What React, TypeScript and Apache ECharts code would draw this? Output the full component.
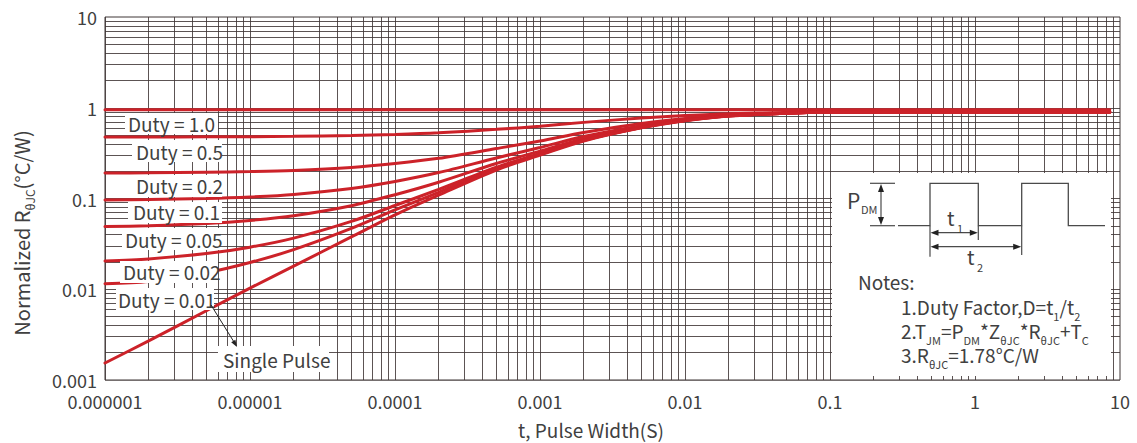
import React, { useEffect, useRef } from 'react';
import * as echarts from 'echarts';

// ---------- data ----------
const pulseWidths = [1e-6, 2e-6, 5e-6, 1e-5, 2e-5, 5e-5, 1e-4, 2e-4, 5e-4, 1e-3, 2e-3, 5e-3, 1e-2, 2e-2, 5e-2, 0.1, 1, 8.5];
const duty050 = [0.476, 0.476, 0.478, 0.48, 0.484, 0.494, 0.508, 0.53, 0.578, 0.625, 0.69, 0.77, 0.82, 0.86, 0.885, 0.895, 0.9, 0.9];
const duty020 = [0.191, 0.192, 0.195, 0.198, 0.204, 0.22, 0.243, 0.277, 0.355, 0.43, 0.534, 0.67, 0.76, 0.83, 0.875, 0.89, 0.9, 0.9];
const duty010 = [0.0964, 0.0974, 0.1, 0.104, 0.111, 0.129, 0.154, 0.193, 0.28, 0.365, 0.482, 0.635, 0.74, 0.82, 0.872, 0.89, 0.9, 0.9];
const duty005 = [0.049, 0.0501, 0.053, 0.0573, 0.0646, 0.0833, 0.11, 0.151, 0.243, 0.333, 0.456, 0.618, 0.73, 0.815, 0.871, 0.89, 0.9, 0.9];
const duty002 = [0.0205, 0.0216, 0.0247, 0.0291, 0.0366, 0.0559, 0.0837, 0.126, 0.221, 0.313, 0.44, 0.607, 0.724, 0.812, 0.87, 0.89, 0.9, 0.9];
const duty001 = [0.0115, 0.0122, 0.0152, 0.0197, 0.0273, 0.0468, 0.0748, 0.117, 0.213, 0.307, 0.435, 0.604, 0.722, 0.811, 0.87, 0.89, 0.9, 0.9];
const singlePulse = [0.00154, 0.0027, 0.0058, 0.0103, 0.018, 0.0377, 0.066, 0.109, 0.206, 0.3, 0.43, 0.6, 0.72, 0.81, 0.87, 0.89, 0.9, 0.9];
const duty100Widths = [1e-6, 8.5];
const duty100 = [0.95, 0.95];

const seriesNames = ['Duty = 1.0', 'Duty = 0.5', 'Duty = 0.2', 'Duty = 0.1', 'Duty = 0.05', 'Duty = 0.02', 'Duty = 0.01', 'Single Pulse'];

const xTickLabels = ['0.000001', '0.00001', '0.0001', '0.001', '0.01', '0.1', '1', '10'];
const yTickLabels = ['0.001', '0.01', '0.1', '1', '10'];
const xDecades = [1e-6, 1e-5, 1e-4, 1e-3, 1e-2, 0.1, 1];
const yDecades = [0.001, 0.01, 0.1, 1];
const gridMultipliers = [1, 2, 3, 4, 5, 6, 7, 8, 9];
const X_MIN = 1e-6, X_MAX = 10, Y_MIN = 0.001, Y_MAX = 10;

const notesLines = [
  '1.Duty Factor,D=t{s|1}/t{s|2}',
  '2.T{s|JM}=P{s|DM}*Z{s|θJC}*R{s|θJC}+T{s|C}',
  '3.R{s|θJC}=1.78°C/W',
];

const FONT = "'Noto Sans CJK SC', 'Noto Sans', sans-serif";
const TEXT = '#404040';
const RED = '#cc2229';
const GRID = '#3f3636';
const INK = '#4a4a4a';

export default function App() {
  const ref = useRef<HTMLDivElement>(null);

  useEffect(() => {
    if (!ref.current) return;
    const chart = echarts.init(ref.current, undefined, { renderer: 'svg' });

    const gridSegs: any[] = [];
    xDecades.forEach((d) => gridMultipliers.forEach((m) => gridSegs.push({ coords: [[d * m, Y_MIN], [d * m, Y_MAX]] })));
    yDecades.forEach((d) => gridMultipliers.forEach((m) => gridSegs.push({ coords: [[X_MIN, d * m], [X_MAX, d * m]] })));

    const curve = (name: string, xs: number[], ys: number[]) => ({
      type: 'line',
      name,
      data: xs.map((x, i) => [x, ys[i]]),
      showSymbol: false,
      symbol: 'none',
      smooth: 0.3,
      silent: true,
      z: 3,
      lineStyle: { color: RED, width: 3, cap: 'round' },
    });

    const labelBoxes = [
      { r: [125, 113, 93, 21], t: [128, 123.5] },
      { r: [132, 140, 90, 22], t: [136, 151] },
      { r: [133, 175, 89, 22], t: [136, 185.5] },
      { r: [128, 202, 94, 21], t: [133, 211.5] },
      { r: [122, 228, 97, 22], t: [125, 239.5] },
      { r: [120, 261, 98, 22], t: [123, 271.5] },
      { r: [116, 288, 98, 22], t: [118, 299.5] },
      { r: [218, 346, 111, 26], t: [223, 359] },
    ];

    const graphics: any[] = [];
    labelBoxes.forEach((b, i) => {
      graphics.push({ type: 'rect', z: 100, shape: { x: b.r[0], y: b.r[1], width: b.r[2], height: b.r[3] }, style: { fill: '#fff' } });
      graphics.push({
        type: 'text', z: 101, x: b.t[0], y: b.t[1],
        style: { text: seriesNames[i], fontSize: 19, fontFamily: FONT, fill: TEXT, align: 'left', verticalAlign: 'middle' },
      });
    });

    // leader arrow to "Single Pulse"
    graphics.push({ type: 'line', z: 101, shape: { x1: 211, y1: 305, x2: 234, y2: 342 }, style: { stroke: '#222', lineWidth: 1 } });
    graphics.push({ type: 'polygon', z: 101, shape: { points: [[237, 347], [231.2, 342.3], [235.4, 339.7]] }, style: { fill: '#222' } });

    // inset
    graphics.push({ type: 'rect', z: 100, shape: { x: 832, y: 173, width: 279, height: 203 }, style: { fill: '#fff' } });
    graphics.push({
      type: 'polyline', z: 101,
      shape: { points: [[898, 225.7], [930, 225.7], [930, 183.3], [978.3, 183.3], [978.3, 225.7], [1021.7, 225.7], [1021.7, 183.3], [1068.3, 183.3], [1068.3, 225.7], [1105, 225.7]] },
      style: { stroke: INK, lineWidth: 1.3, fill: 'none' },
    });
    const ln = (x1: number, y1: number, x2: number, y2: number) => ({ type: 'line', z: 101, shape: { x1, y1, x2, y2 }, style: { stroke: INK, lineWidth: 1.2 } });
    const tri = (pts: number[][]) => ({ type: 'polygon', z: 101, shape: { points: pts }, style: { fill: '#222' } });
    graphics.push(ln(870, 183.3, 895, 183.3), ln(870, 225.7, 895, 225.7));
    graphics.push(ln(881, 190, 881, 219), tri([[881, 184], [878, 192], [884, 192]]), tri([[881, 225], [878, 217], [884, 217]]));
    graphics.push(ln(930, 225.7, 930, 256.7), ln(978.3, 225.7, 978.3, 240), ln(1021.7, 225.7, 1021.7, 255));
    graphics.push(ln(936, 232.7, 972, 232.7), tri([[930.5, 232.7], [938.5, 229.7], [938.5, 235.7]]), tri([[977.8, 232.7], [969.8, 229.7], [969.8, 235.7]]));
    graphics.push(ln(936, 246.7, 1016, 246.7), tri([[930.5, 246.7], [938.5, 243.7], [938.5, 249.7]]), tri([[1021.2, 246.7], [1013.2, 243.7], [1013.2, 249.7]]));

    const sub = { fontSize: 11, lineHeight: 12, verticalAlign: 'bottom', fontFamily: FONT, fill: TEXT };
    const txt = (x: number, y: number, text: string, size: number, extra: any = {}) => ({
      type: 'text', z: 101, x, y,
      style: { text, fontSize: size, fontFamily: FONT, fill: TEXT, align: 'left', verticalAlign: 'middle', ...extra },
    });
    graphics.push(txt(847, 200, 'P', 21), txt(861, 209, 'DM', 11));
    graphics.push(txt(947, 217, 't', 20), txt(957, 228, '1', 11));
    graphics.push(txt(967, 256, 't', 20), txt(977, 267, '2', 11));
    graphics.push(txt(858, 281, 'Notes:', 19));
    notesLines.forEach((line, i) => {
      graphics.push(txt(901, 306 + i * 24, line, 19, { lineHeight: 30, rich: { s: sub } }));
    });

    // axis titles
    graphics.push({
      type: 'text', z: 101, x: 21, y: 233, rotation: Math.PI / 2,
      style: {
        text: 'Normalized R{s|θJC}(°C/W)', fontSize: 20, fontFamily: FONT, fill: TEXT,
        align: 'center', verticalAlign: 'middle', lineHeight: 30,
        rich: { s: { ...sub, fontSize: 12 } },
      },
    });
    graphics.push({
      type: 'text', z: 101, x: 591, y: 429,
      style: { text: 't, Pulse Width(S)', fontSize: 19, fontFamily: FONT, fill: TEXT, align: 'center', verticalAlign: 'middle' },
    });

    const option: any = {
      animation: false,
      grid: {
        left: 105, right: 17, top: 17, bottom: 63,
        show: true, borderColor: GRID, borderWidth: 1, backgroundColor: '#fff',
        containLabel: false, outerBoundsMode: 'none',
      },
      xAxis: {
        type: 'log', logBase: 10, min: X_MIN, max: X_MAX, splitNumber: 7,
        axisLine: { show: false },
        axisTick: { show: false },
        splitLine: { show: false },
        axisLabel: {
          fontSize: 18, fontFamily: FONT, color: TEXT, margin: 12,
          formatter: (v: number) => xTickLabels[Math.round(Math.log10(v)) + 6] ?? '',
        },
      },
      yAxis: {
        type: 'log', logBase: 10, min: Y_MIN, max: Y_MAX, splitNumber: 4,
        axisLine: { show: false },
        axisTick: { show: false },
        splitLine: { show: false },
        axisLabel: {
          fontSize: 18, fontFamily: FONT, color: TEXT, margin: 8,
          formatter: (v: number) => yTickLabels[Math.round(Math.log10(v)) + 3] ?? '',
        },
      },
      series: [
        {
          type: 'lines', name: 'grid', coordinateSystem: 'cartesian2d', silent: true, z: 1,
          lineStyle: { color: GRID, width: 1, opacity: 0.85, curveness: 0 },
          effect: { show: false },
          data: gridSegs,
        },
        curve(seriesNames[0], duty100Widths, duty100),
        curve(seriesNames[1], pulseWidths, duty050),
        curve(seriesNames[2], pulseWidths, duty020),
        curve(seriesNames[3], pulseWidths, duty010),
        curve(seriesNames[4], pulseWidths, duty005),
        curve(seriesNames[5], pulseWidths, duty002),
        curve(seriesNames[6], pulseWidths, duty001),
        curve(seriesNames[7], pulseWidths, singlePulse),
      ],
      graphic: graphics,
    };

    chart.setOption(option);
    return () => chart.dispose();
  }, []);

  return <div ref={ref} style={{ position: 'fixed', left: 0, top: 0, width: 1137, height: 443, background: '#fff' }} />;
}
